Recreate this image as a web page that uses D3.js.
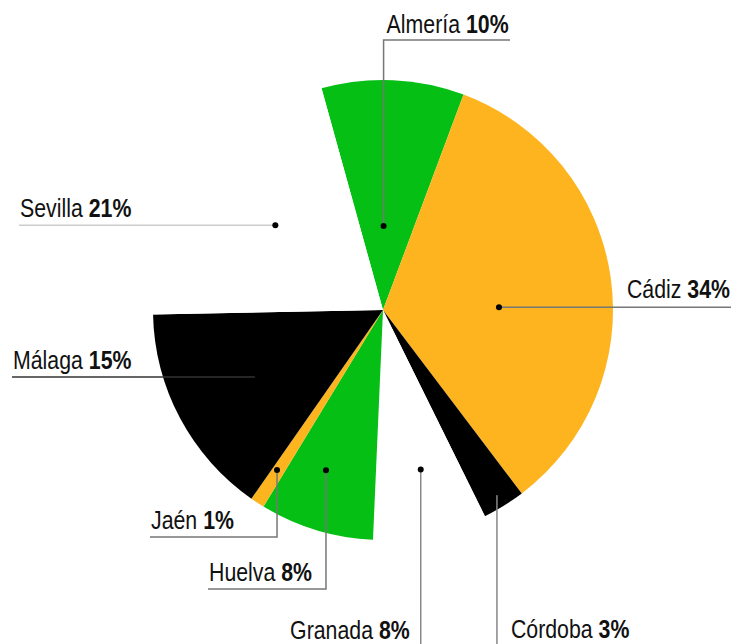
<!DOCTYPE html>
<html><head><meta charset="utf-8">
<script src="https://cdn.jsdelivr.net/npm/d3@7"></script>
<style>
html,body{margin:0;padding:0;background:#fff;}
svg text{font-family:"Liberation Sans",Arial,sans-serif;font-size:26px;fill:#111;}
</style></head><body>
<svg id="c" width="736" height="644"></svg>
<script>
const provinces = ["Almería","Cádiz","Córdoba","Granada","Huelva","Jaén","Málaga","Sevilla"];
const shares = [10,34,3,8,8,1,15,21];
const palette = ["#05bf14","#fdb41f","#000000","#ffffff"];

// label layout (annotation placement only)
const layout = {
  "Almería": {da:-2.1, r:84,  type:"upRight", y:40, x2:510, lineColor:"#777"},
  "Cádiz":   {da:7.0,  r:116, type:"right", x2:731, lineColor:"#777"},
  "Córdoba": {da:-0.3, r:215, type:"downRight", y2:644, lineColor:"#888"},
  "Granada": {da:-1.4, r:164, type:"downLeft", y2:644, lineColor:"#888"},
  "Huelva":  {da:2.7,  r:170, type:"downElbow", y:589, x2:208, lineColor:"#777"},
  "Jaén":    {da:0.4,  r:192, type:"downElbow", y:537, x2:150, lineColor:"#777"},
  "Málaga":  {da:0,    r:142, type:"left", x2:12, lineColor:"#333"},
  "Sevilla": {da:1.5,  r:137, type:"left", x2:19, lineColor:"#ccc"}
};

const svg = d3.select("#c");
const cx = 383, cy = 310, R = 230;
const g = svg.append("g").attr("transform",`translate(${cx},${cy})`);
const data = provinces.map((p,i)=>({name:p, value:shares[i], i}));
const startA = -15.5*Math.PI/180;
const pie = d3.pie().value(d=>d.value).sort(null).startAngle(startA).endAngle(startA+2*Math.PI);
const arcs = pie(data);
const arc = d3.arc().innerRadius(0).outerRadius(R);
const color = d3.scaleOrdinal().domain(provinces).range(palette);

g.selectAll("path.slice").data(arcs).enter().append("path")
  .attr("class","slice").attr("d",arc).attr("fill",d=>color(d.data.name));

function pt(a, r){ return [Math.sin(a)*r, -Math.cos(a)*r]; }

const ann = svg.append("g");
arcs.forEach(d=>{
  const L = layout[d.data.name];
  const a = (d.startAngle+d.endAngle)/2 + L.da*Math.PI/180;
  const p = pt(a, L.r);
  const x = cx + p[0], y = cy + p[1];
  let path, tx, ty, anchor;
  if (L.type==="upRight"){ path=[[x,y],[x,L.y],[L.x2,L.y]]; tx=x+3; ty=L.y-7; anchor="start"; }
  else if (L.type==="right"){ path=[[x,y],[L.x2,y]]; tx=L.x2-1; ty=y-9; anchor="end"; }
  else if (L.type==="left"){ path=[[x,y],[L.x2,y]]; tx=L.x2+1; ty=y-8; anchor="start"; }
  else if (L.type==="downElbow"){ path=[[x,y],[x,L.y],[L.x2,L.y]]; tx=L.x2+1; ty=L.y-8; anchor="start"; }
  else if (L.type==="downLeft"){ path=[[x,y],[x,L.y2]]; tx=x-11; ty=639; anchor="end"; }
  else if (L.type==="downRight"){ path=[[x,y],[x,L.y2]]; tx=x+14; ty=638; anchor="start"; }
  ann.append("path").attr("d", d3.line()(path)).attr("fill","none")
     .attr("stroke",L.lineColor).attr("stroke-width",1.5);
  ann.append("circle").attr("cx",x).attr("cy",y).attr("r",3).attr("fill","#000");
  const t = ann.append("text").attr("transform",`translate(${tx},${ty}) scale(0.82,1)`).attr("text-anchor",anchor);
  t.append("tspan").text(d.data.name+" ");
  t.append("tspan").attr("font-weight","700").text(d.data.value+"%");
});
</script>
</body></html>
